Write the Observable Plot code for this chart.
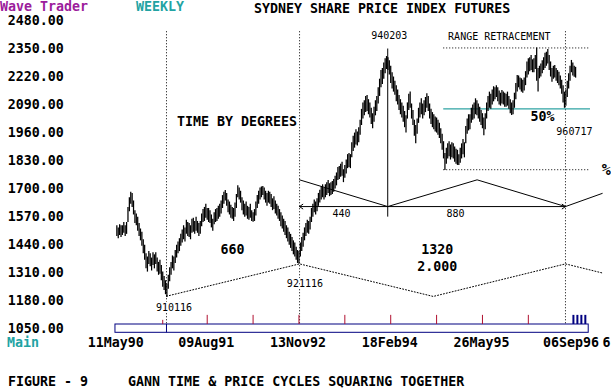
<!DOCTYPE html>
<html><head><meta charset="utf-8">
<script src="https://cdn.jsdelivr.net/npm/d3@7"></script>
<script src="https://cdn.jsdelivr.net/npm/@observablehq/plot@0.6"></script>
<style>
body{margin:0;background:#fff;}
#wrap{position:relative;width:611px;height:390px;overflow:hidden;font-family:"DejaVu Sans Mono",monospace;background:#fff;}
#wrap svg{position:absolute;left:0;top:0;}
.t{position:absolute;font-weight:bold;font-size:13.3px;line-height:13.3px;white-space:pre;}
</style></head><body>
<div id="wrap">
  <div class="t" style="left:0;top:0;color:#9c1c9c">Wave Trader</div>
  <div class="t" style="left:136px;top:0;color:#22a3a3">WEEKLY</div>
  <div class="t" style="left:254px;top:2px;color:#000">SYDNEY SHARE PRICE INDEX FUTURES</div>
  <div class="t" style="left:7px;top:336px;color:#22a3a3">Main</div>
  <div class="t" style="left:8px;top:375px;color:#000">FIGURE - 9     GANN TIME &amp; PRICE CYCLES SQUARING TOGETHER</div>
</div>
<script>
// ---- data: weekly SPI futures bars (Fridays from 11 May 1990) ----
const firstWeek = "1990-05-11";
const lo = [
1480,1470,1485,1475,1485,1495,1480,1490,1545,1595,
1630,1615,1580,1540,1530,1505,1480,1460,1435,1400,
1370,1330,1315,1350,1340,1320,1345,1330,1350,1315,
1300,1305,1275,1245,1230,1210,1198,1235,1270,1300,
1330,1320,1355,1380,1400,1410,1435,1450,1465,1455,
1490,1480,1475,1465,1495,1500,1490,1505,1495,1480,
1490,1525,1545,1550,1565,1555,1545,1540,1520,1505,
1535,1545,1550,1560,1570,1585,1610,1630,1645,1620,
1590,1580,1565,1560,1550,1570,1610,1660,1650,1635,
1600,1580,1570,1575,1560,1555,1565,1550,1546,1550,
1575,1610,1630,1650,1660,1670,1650,1635,1620,1635,
1630,1615,1600,1605,1585,1575,1560,1550,1525,1515,
1500,1485,1470,1455,1440,1425,1410,1395,1385,1370,
1355,1352,1385,1410,1430,1460,1480,1495,1490,1510,
1545,1570,1590,1580,1595,1620,1635,1650,1660,1650,
1660,1670,1680,1665,1670,1675,1685,1700,1715,1740,
1745,1755,1760,1730,1750,1770,1795,1800,1795,1845,
1875,1890,1905,1900,1915,1950,1995,2025,2040,2055,
2060,2045,2030,2000,1980,2010,2040,2060,2095,2130,
2170,2185,2210,2235,2255,2250,2230,2190,2165,2150,
2135,2105,2090,2065,2045,2030,2010,1985,1960,2025,
2065,2075,2025,1995,1945,1910,1955,2005,2030,2045,
2025,2040,2055,2075,2060,2025,2000,1985,1975,1965,
1960,1950,1935,1910,1880,1840,1786,1815,1840,1850,
1835,1845,1840,1825,1815,1810,1809,1820,1840,1860,
1845,1910,1955,1970,1975,2005,2020,2025,2045,2040,
2025,2010,1995,1980,1948,1975,2025,2060,2075,2070,
2090,2105,2115,2125,2105,2090,2085,2095,2090,2080,
2080,2085,2070,2050,2041,2045,2075,2115,2150,2170,
2160,2150,2145,2155,2180,2215,2230,2245,2250,2240,
2240,2255,2200,2150,2212,2220,2235,2250,2260,2270,
2280,2250,2220,2196,2210,2215,2200,2190,2180,2165,
2140,2100,2075,2085,2125,2165,2200,2240,2225,2219,
2215];
const hi = [
1530,1520,1535,1530,1530,1545,1530,1545,1615,1660,
1685,1680,1645,1600,1585,1570,1540,1515,1500,1465,
1440,1400,1385,1410,1400,1380,1405,1395,1405,1380,
1360,1370,1345,1315,1295,1275,1260,1300,1335,1360,
1390,1385,1415,1440,1455,1470,1490,1510,1530,1520,
1555,1545,1540,1530,1560,1565,1550,1570,1550,1540,
1550,1585,1605,1615,1630,1610,1610,1600,1580,1560,
1590,1605,1610,1620,1630,1645,1670,1685,1693,1680,
1650,1640,1625,1615,1610,1635,1675,1716,1705,1690,
1660,1645,1630,1640,1620,1615,1630,1600,1590,1605,
1640,1670,1690,1705,1710,1712,1705,1690,1680,1690,
1685,1675,1655,1665,1645,1630,1620,1605,1590,1575,
1560,1550,1530,1520,1500,1490,1475,1460,1450,1430,
1415,1410,1450,1475,1495,1520,1540,1555,1550,1570,
1610,1630,1650,1640,1655,1680,1695,1710,1720,1705,
1720,1730,1740,1725,1730,1735,1745,1760,1775,1800,
1805,1815,1825,1790,1810,1835,1860,1865,1860,1915,
1945,1960,1975,1965,1985,2020,2070,2100,2110,2130,
2134,2115,2100,2075,2050,2080,2110,2130,2170,2210,
2250,2260,2285,2305,2315,2310,2295,2270,2240,2220,
2200,2180,2160,2134,2115,2100,2085,2060,2040,2100,
2140,2150,2095,2065,2020,1995,2025,2075,2100,2119,
2095,2110,2125,2142,2130,2095,2070,2055,2045,2035,
2030,2020,2005,1980,1955,1920,1865,1890,1910,1920,
1905,1915,1910,1895,1885,1880,1860,1890,1910,1930,
1915,1990,2025,2045,2045,2075,2090,2100,2119,2110,
2095,2080,2065,2050,2030,2050,2100,2130,2150,2140,
2160,2175,2170,2180,2170,2155,2145,2157,2150,2145,
2140,2150,2130,2115,2100,2110,2145,2190,2227,2225,
2215,2212,2205,2215,2245,2290,2305,2310,2320,2300,
2305,2320,2355,2260,2270,2280,2295,2310,2330,2335,
2348,2320,2290,2260,2270,2273,2260,2250,2242,2225,
2205,2180,2150,2160,2200,2235,2270,2297,2285,2270,
2265];

// axis ticks
const priceTicks = [2480,2350,2220,2090,1960,1830,1700,1570,1440,1310,1180,1050];
const dateLabels = ["1990-05-11","1991-08-09","1992-11-13","1994-02-18","1995-05-26"];
const lastDateLabel = ["1996-09-06"];
const strayLabel = {date: "1997-02-08", text: "6"};
const navTicks = ["1991-08-09","1992-03-27","1992-11-13","1993-07-02","1994-02-18","1994-10-07","1995-05-26","1996-01-12"];
const navShortTick = ["1990-12-28"];
const navThumb = ["1996-08-26","1996-09-15","1996-10-05","1996-10-25"];
const navSpan = ["1990-05-04","1996-11-11"];
const navDivider = ["1991-01-16"];

// Gann cycle turning points
const cycleDates = ["1991-01-16","1992-11-16","1996-07-17"];
const peakDate = "1994-02-03";
const peakLine = [2350, 1570];
const cycleLineSpan = [2430, 1071.5];
const baseLevel = 1619;
const solidZig = [["1992-11-16",1743],["1994-02-03",1619],["1995-04-29",1743],["1996-07-17",1619],["1997-01-18",1680]];
const dottedZig = [["1991-01-16",1203],["1992-11-16",1353],["1994-09-20",1202],["1996-07-17",1353],["1997-01-18",1311]];
const rangeHigh = 2355, rangeLow = 1790;
const rangeSpan = ["1994-11-12","1996-11-20"];

const boldLabels = [
  {date:"1992-01-06", v:2013, text:"TIME BY DEGREES", anchor:"middle", size:13.3},
  {date:"1991-12-15", v:1420, text:"660", anchor:"middle", size:13.3},
  {date:"1994-10-10", v:1420, text:"1320", anchor:"start", size:13.3},
  {date:"1994-10-10", v:1338, text:"2.000", anchor:"start", size:13.3},
  {date:"1996-03-23", v:2037, text:"50%", anchor:"middle", size:13.3},
  {date:"1997-02-08", v:1786, text:"%", anchor:"middle", size:15}
];
const smallLabels = [
  {date:"1994-02-11", v:2410, text:"940203", anchor:"middle"},
  {date:"1994-12-04", v:2409, text:"RANGE RETRACEMENT", anchor:"start"},
  {date:"1993-06-15", v:1584, text:"440", anchor:"middle"},
  {date:"1995-01-10", v:1587, text:"880", anchor:"middle"},
  {date:"1996-08-31", v:1964, text:"960717", anchor:"middle"},
  {date:"1991-02-23", v:1151, text:"910116", anchor:"middle"},
  {date:"1992-12-13", v:1260, text:"921116", anchor:"middle"}
];

// ---- build ----
const D = s => new Date(s + "T00:00:00Z");
const start = D(firstWeek);
const weeks = lo.map((l, i) => ({date: d3.utcDay.offset(start, 7 * i), lo: l, hi: hi[i]}));
const xScale = {type: "utc", domain: [start, weeks[weeks.length - 1].date], range: [116.35, 575.1], axis: null};
const FONT = "DejaVu Sans Mono";
const fmt = d3.utcFormat("%d%b%y");
const axisText = {anchor: "bottom", tickSize: 0, tickPadding: 5, label: null, fontSize: 13.3, fontWeight: "bold", fontFamily: FONT, fill: "#000"};

const main = Plot.plot({
  width: 611, height: 390,
  marginLeft: 64, marginRight: 0, marginTop: 0, marginBottom: 0,
  style: {fontFamily: FONT, fontSize: "13.3px", fontWeight: "bold", background: "transparent", overflow: "visible"},
  x: xScale,
  y: {domain: [1050, 2480], range: [328.7, 20.5], axis: null},
  marks: [
    Plot.axisY(priceTicks, {anchor: "left", tickSize: 0, tickPadding: 0.7, tickFormat: d => d.toFixed(2),
      label: null, fontSize: 13.3, fontWeight: "bold", fontFamily: FONT, fill: "#000"}),
    // cycle verticals (dotted)
    Plot.ruleX(cycleDates.map(D), {y1: () => cycleLineSpan[0], y2: () => cycleLineSpan[1], stroke: "#000", strokeWidth: 1, strokeDasharray: "1,2"}),
    // range retracement lines
    Plot.ruleY([rangeHigh, rangeLow], {x1: () => D(rangeSpan[0]), x2: () => D(rangeSpan[1]), stroke: "#000", strokeDasharray: "1,2"}),
    Plot.ruleY([(rangeHigh + rangeLow) / 2], {x1: () => D(rangeSpan[0]), x2: () => D(rangeSpan[1]), stroke: "#2fa3a3", strokeWidth: 1.3}),
    // price bars
    Plot.ruleX(weeks, {x: "date", y1: "lo", y2: "hi", stroke: "#000", strokeWidth: 1.25}),
    // peak vertical
    Plot.ruleX([D(peakDate)], {y1: () => peakLine[0], y2: () => peakLine[1], stroke: "#000", strokeWidth: 1}),
    // time base arrows
    Plot.arrow([cycleDates[1], cycleDates[2]], {x1: () => D(peakDate), x2: d => D(d), y1: () => baseLevel, y2: () => baseLevel,
      stroke: "#000", strokeWidth: 1, headLength: 6, headAngle: 70}),
    // zig-zags
    Plot.line(solidZig, {x: d => D(d[0]), y: d => d[1], stroke: "#000", strokeWidth: 1}),
    Plot.line(dottedZig, {x: d => D(d[0]), y: d => d[1], stroke: "#000", strokeWidth: 1, strokeDasharray: "1,2"}),
    // labels
    Plot.text(boldLabels, {x: d => D(d.date), y: "v", text: "text", textAnchor: d => d.anchor, fontSize: d => d.size,
      fontWeight: "bold", fontFamily: FONT, fill: "#000"}),
    Plot.text(smallLabels.filter(d => d.anchor === "middle"), {x: d => D(d.date), y: "v", text: "text", textAnchor: "middle", fontSize: 10,
      fontWeight: "normal", fontFamily: FONT, fill: "#000", stroke: "white", strokeWidth: 3}),
    Plot.text(smallLabels.filter(d => d.anchor === "start"), {x: d => D(d.date), y: "v", text: "text", textAnchor: "start", fontSize: 10,
      fontWeight: "normal", fontFamily: FONT, fill: "#000", stroke: "white", strokeWidth: 3})
  ]
});

const nav = Plot.plot({
  width: 611, height: 390,
  marginLeft: 0, marginRight: 0, marginTop: 0, marginBottom: 57.7,
  style: {fontFamily: FONT, fontSize: "13.3px", fontWeight: "bold", background: "transparent", overflow: "visible"},
  x: xScale,
  y: {domain: [0, 1], range: [332.3, 324], axis: null},
  marks: [
    Plot.rect([navSpan], {x1: d => D(d[0]), x2: d => D(d[1]), y1: () => 0, y2: () => 1, fill: "white", stroke: "#000080", strokeWidth: 1}),
    Plot.ruleX(navDivider.map(D), {y1: () => 0, y2: () => 1, stroke: "#000080"}),
    Plot.ruleX(navTicks.map(D), {y1: () => 1, y2: () => 2.1, stroke: "#b01030"}),
    Plot.ruleX(navShortTick.map(D), {y1: () => 1, y2: () => 1.5, stroke: "#b01030"}),
    Plot.ruleX(navThumb.map(D), {y1: () => 1, y2: () => 2.1, stroke: "#000080", strokeWidth: 2}),
    Plot.axisX(dateLabels.map(D), {...axisText, tickFormat: fmt, dx: -1}),
    Plot.axisX(lastDateLabel.map(D), {...axisText, tickFormat: fmt, dx: -4.5}),
    Plot.axisX([D(strayLabel.date)], {...axisText, tickFormat: () => strayLabel.text})
  ]
});

document.getElementById("wrap").appendChild(main);
document.getElementById("wrap").appendChild(nav);
</script>
</body></html>
